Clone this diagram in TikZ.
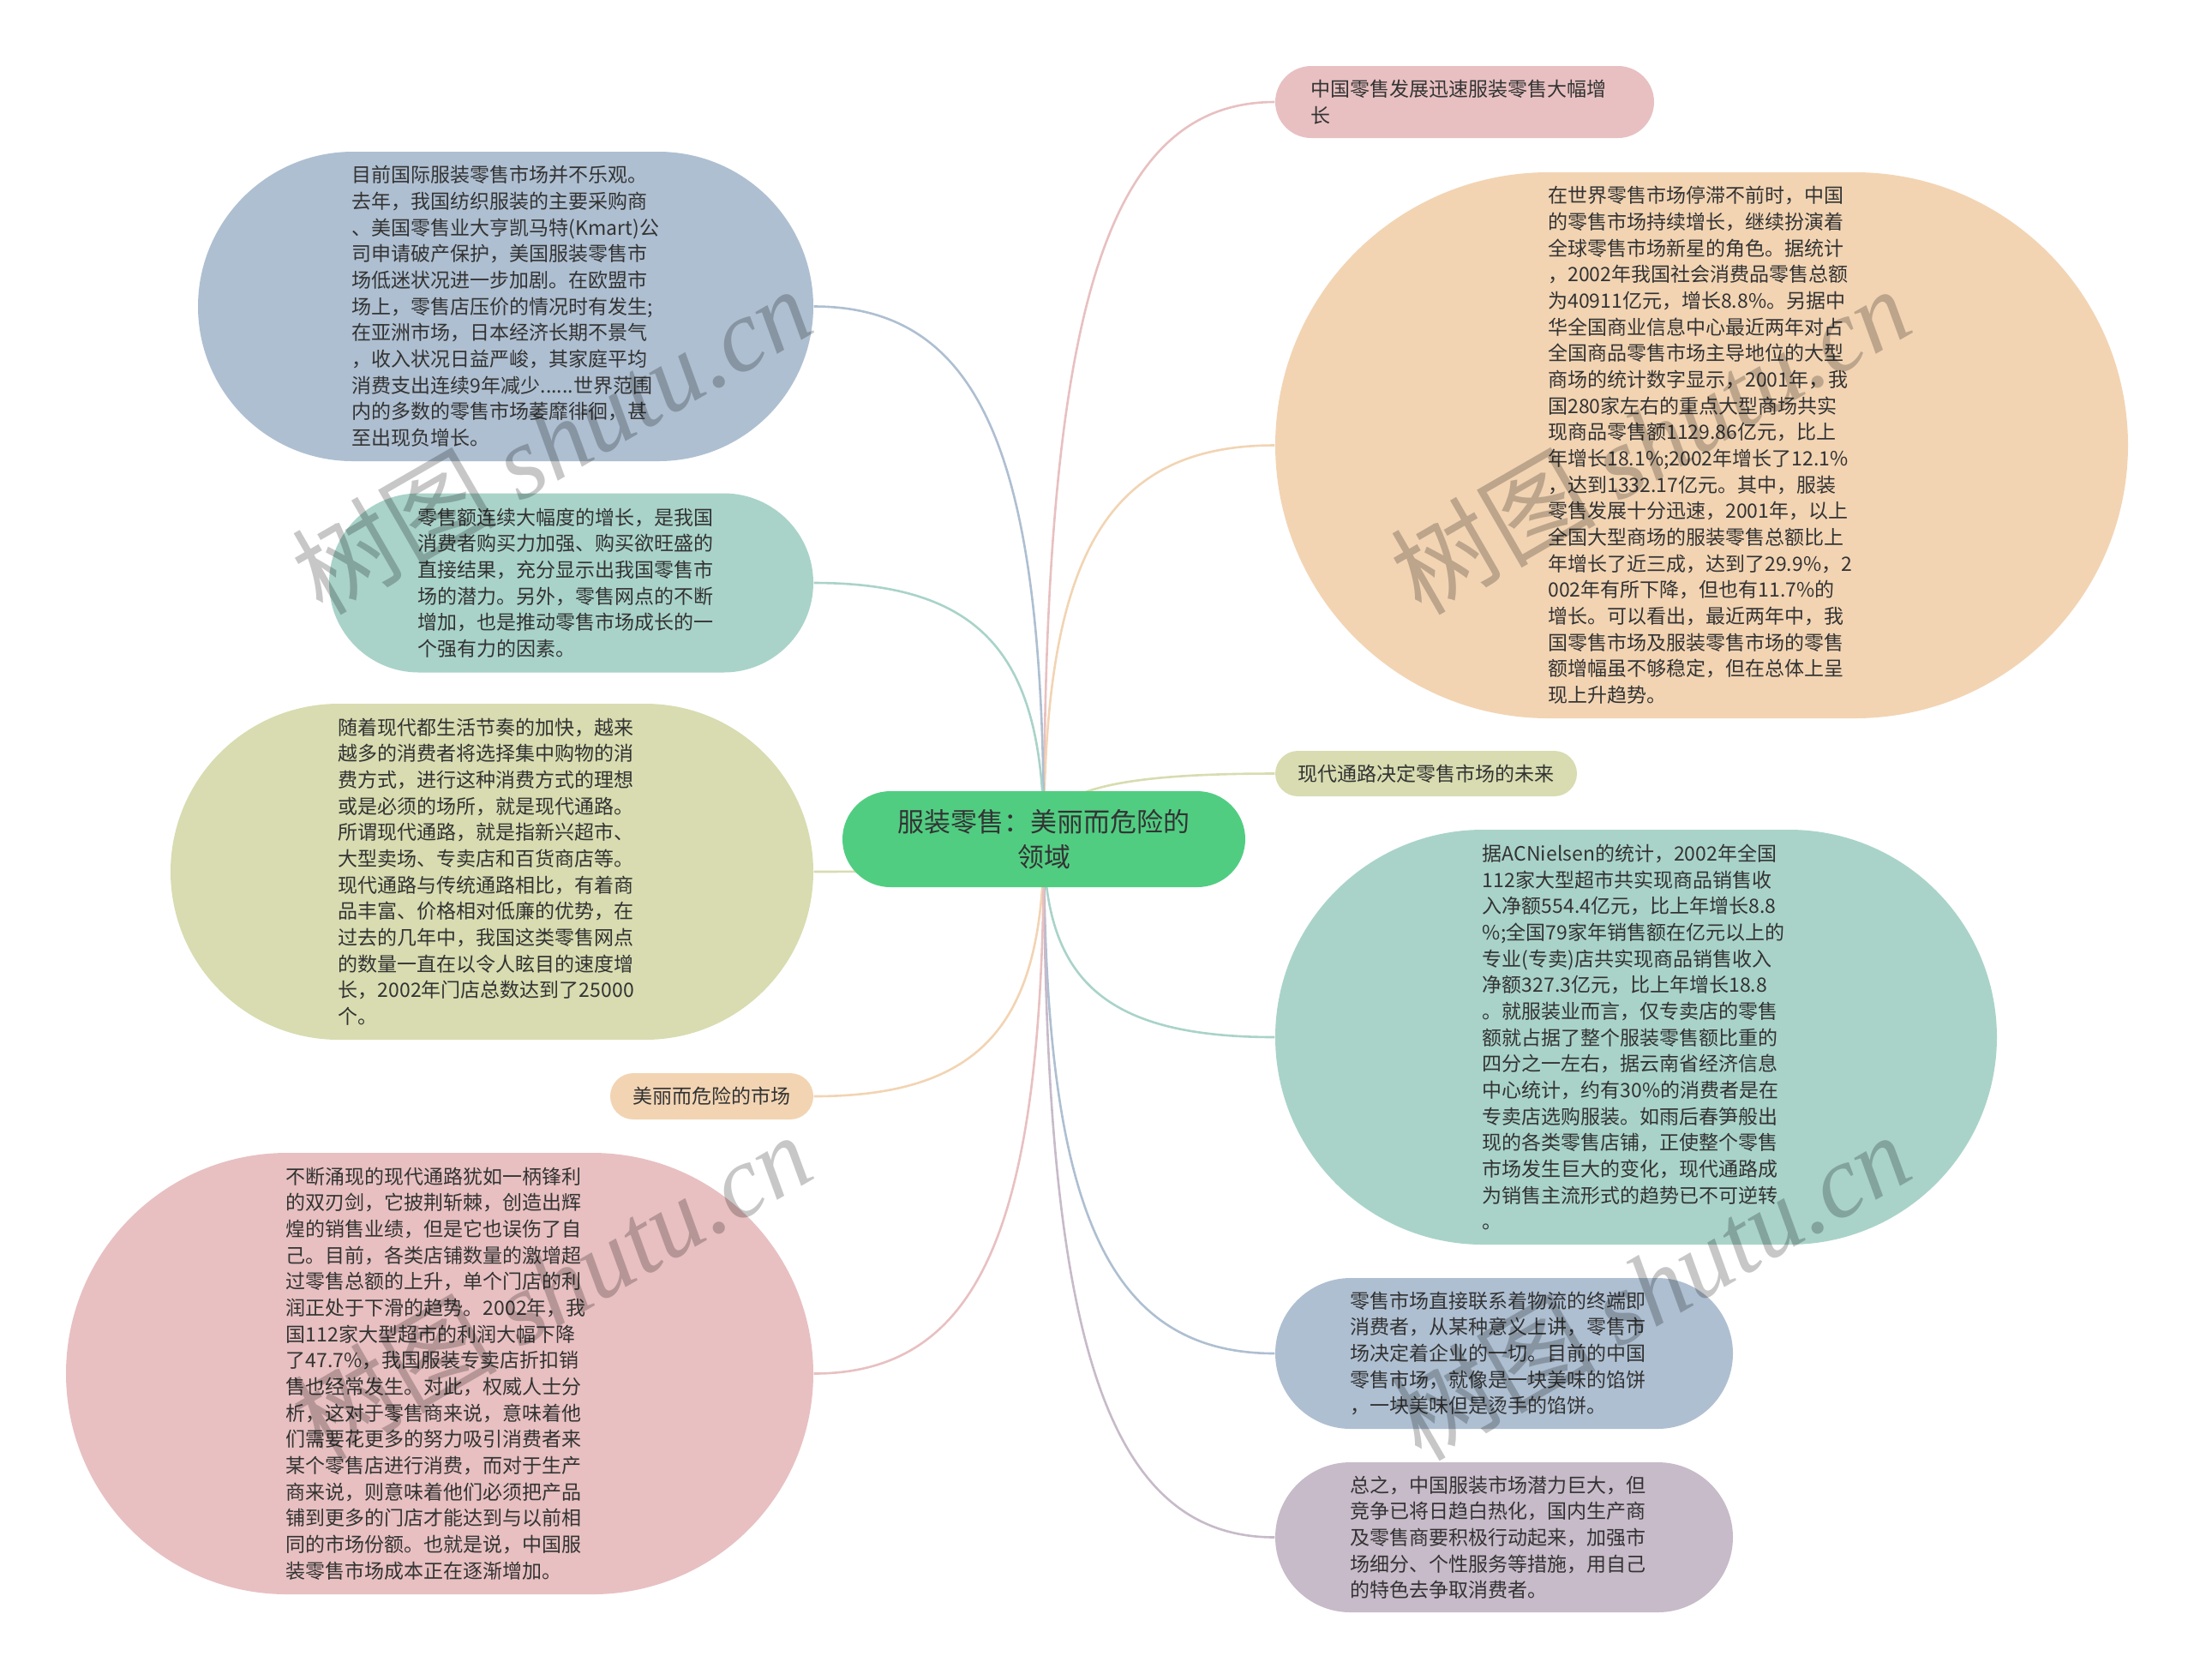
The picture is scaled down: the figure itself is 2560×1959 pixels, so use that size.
\documentclass[tikz,border=0pt]{standalone}
\usepackage{fontspec}
\setmainfont{Noto Sans CJK SC}
\newfontfamily\wmserif{Liberation Serif}
\usetikzlibrary{calc,backgrounds}
\definecolor{cblue}{HTML}{AEBFD1}
\definecolor{cteal}{HTML}{A9D3C9}
\definecolor{colive}{HTML}{D8DCB0}
\definecolor{corange}{HTML}{F2D4B3}
\definecolor{cred}{HTML}{E8C0C1}
\definecolor{cpurple}{HTML}{C7BAC9}
\definecolor{croot}{HTML}{51CD82}
\definecolor{ctext}{HTML}{333333}
\tikzset{
  pill/.style n args={3}{shape=rectangle,inner sep=0pt,align=left,text=ctext,
    minimum width=#1*0.01cm,minimum height=#2*0.01cm,rounded corners=#2*0.005cm,fill=#3,
    font=\fontsize{6.54}{8.72}\selectfont},
  para/.style={text width=3.58cm},
  rootfont/.style={font=\fontsize{8.8}{11.7}\selectfont,align=center},
  linkline/.style={line width=0.026cm,fill=none},
  wmark/.style={rotate=30,text=black,text opacity=0.22,inner sep=0pt,
    font=\fontsize{34}{36}\selectfont}
}
\newcommand{\linkto}[3]{%
  \draw[linkline,draw=#3] let \p1=(root.center),\p2=(#1.#2) in
    (\p1) .. controls (\x1,{\y1+0.7*(\y2-\y1)}) and ({\x1+0.25*(\x2-\x1)},\y2) .. (\p2);}
\newcommand{\wmtext}{树图 {\wmserif\itshape shutu.cn}}
\begin{document}
\begin{tikzpicture}[x=0.01cm,y=-0.01cm]
\useasboundingbox (0,0) rectangle (2560,1959);
\node[pill={470}{112}{croot},rootfont] (root) at (1218,979) {服装零售：美丽而危险的\\领域};
\node[pill={442}{84}{cred},para] (a) at (1709,119) {中国零售发展迅速服装零售大幅增\\长};
\node[pill={995}{637}{corange},para] (b) at (1985.5,519.5) {在世界零售市场停滞不前时，中国\\的零售市场持续增长，继续扮演着\\全球零售市场新星的角色。据统计\\，2002年我国社会消费品零售总额\\为40911亿元，增长8.8\%。另据中\\华全国商业信息中心最近两年对占\\全国商品零售市场主导地位的大型\\商场的统计数字显示，2001年，我\\国280家左右的重点大型商场共实\\现商品零售额1129.86亿元，比上\\年增长18.1\%;2002年增长了12.1\%\\，达到1332.17亿元。其中，服装\\零售发展十分迅速，2001年，以上\\全国大型商场的服装零售总额比上\\年增长了近三成，达到了29.9\%，2\\002年有所下降，但也有11.7\%的\\增长。可以看出，最近两年中，我\\国零售市场及服装零售市场的零售\\额增幅虽不够稳定，但在总体上呈\\现上升趋势。};
\node[pill={352}{53}{colive}] (c) at (1664,902.5) {现代通路决定零售市场的未来};
\node[pill={842}{484}{cteal},para] (d) at (1909,1210) {据ACNielsen的统计，2002年全国\\112家大型超市共实现商品销售收\\入净额554.4亿元，比上年增长8.8\\\%;全国79家年销售额在亿元以上的\\专业(专卖)店共实现商品销售收入\\净额327.3亿元，比上年增长18.8\\。就服装业而言，仅专卖店的零售\\额就占据了整个服装零售额比重的\\四分之一左右，据云南省经济信息\\中心统计，约有30\%的消费者是在\\专卖店选购服装。如雨后春笋般出\\现的各类零售店铺，正使整个零售\\市场发生巨大的变化，现代通路成\\为销售主流形式的趋势已不可逆转\\。};
\node[pill={534}{176}{cblue},para] (e) at (1755,1579) {零售市场直接联系着物流的终端即\\消费者，从某种意义上讲，零售市\\场决定着企业的一切。目前的中国\\零售市场，就像是一块美味的馅饼\\，一块美味但是烫手的馅饼。};
\node[pill={534}{175}{cpurple},para] (f) at (1755,1793.5) {总之，中国服装市场潜力巨大，但\\竞争已将日趋白热化，国内生产商\\及零售商要积极行动起来，加强市\\场细分、个性服务等措施，用自己\\的特色去争取消费者。};
\node[pill={718}{361}{cblue},para] (la) at (590,357.5) {目前国际服装零售市场并不乐观。\\去年，我国纺织服装的主要采购商\\、美国零售业大亨凯马特(Kmart)公\\司申请破产保护，美国服装零售市\\场低迷状况进一步加剧。在欧盟市\\场上，零售店压价的情况时有发生;\\在亚洲市场，日本经济长期不景气\\，收入状况日益严峻，其家庭平均\\消费支出连续9年减少......世界范围\\内的多数的零售市场萎靡徘徊，甚\\至出现负增长。};
\node[pill={565}{209}{cteal},para] (lb) at (666.5,680) {零售额连续大幅度的增长，是我国\\消费者购买力加强、购买欲旺盛的\\直接结果，充分显示出我国零售市\\场的潜力。另外，零售网点的不断\\增加，也是推动零售市场成长的一\\个强有力的因素。};
\node[pill={750}{392}{colive},para] (lc) at (574,1017) {随着现代都生活节奏的加快，越来\\越多的消费者将选择集中购物的消\\费方式，进行这种消费方式的理想\\或是必须的场所，就是现代通路。\\所谓现代通路，就是指新兴超市、\\大型卖场、专卖店和百货商店等。\\现代通路与传统通路相比，有着商\\品丰富、价格相对低廉的优势，在\\过去的几年中，我国这类零售网点\\的数量一直在以令人眩目的速度增\\长，2002年门店总数达到了25000\\个。};
\node[pill={237}{54}{corange}] (ld) at (830.5,1279) {美丽而危险的市场};
\node[pill={872}{515}{cred},para] (le) at (513,1602.5) {不断涌现的现代通路犹如一柄锋利\\的双刃剑，它披荆斩棘，创造出辉\\煌的销售业绩，但是它也误伤了自\\己。目前，各类店铺数量的激增超\\过零售总额的上升，单个门店的利\\润正处于下滑的趋势。2002年，我\\国112家大型超市的利润大幅下降\\了47.7\%，我国服装专卖店折扣销\\售也经常发生。对此，权威人士分\\析，这对于零售商来说，意味着他\\们需要花更多的努力吸引消费者来\\某个零售店进行消费，而对于生产\\商来说，则意味着他们必须把产品\\铺到更多的门店才能达到与以前相\\同的市场份额。也就是说，中国服\\装零售市场成本正在逐渐增加。};
\begin{scope}[on background layer]
\linkto{a}{west}{cred}
\linkto{b}{west}{corange}
\linkto{c}{west}{colive}
\linkto{d}{west}{cteal}
\linkto{e}{west}{cblue}
\linkto{f}{west}{cpurple}
\linkto{la}{east}{cblue}
\linkto{lb}{east}{cteal}
\linkto{lc}{east}{colive}
\linkto{ld}{east}{corange}
\linkto{le}{east}{cred}
\end{scope}
\node[wmark] (wa) at (643,513) {\wmtext};
\node[wmark] (wb) at (1925,513) {\wmtext};
\node[wmark] (wc) at (643,1500) {\wmtext};
\node[wmark] (wd) at (1925,1500) {\wmtext};
\end{tikzpicture}
\end{document}
